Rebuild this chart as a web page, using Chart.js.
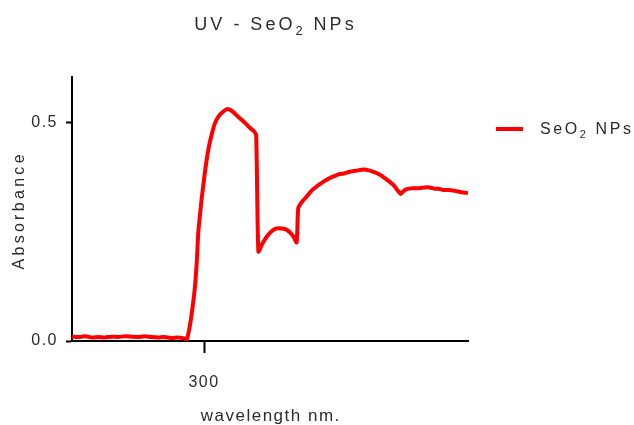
<!DOCTYPE html>
<html><head><meta charset="utf-8">
<script src="https://cdn.jsdelivr.net/npm/chart.js@4"></script>
<style>html,body{margin:0;padding:0;background:#fff}#wrap{width:634px;height:425px}</style>
</head><body><div id="wrap"><canvas id="c" width="634" height="425"></canvas></div>
<script>
const wavelength = [200,205,210,215,220,225,230,235,240,245,250,255,260,265,270,275,280,285,287,
  289,291,293,294.5,295.7,297,298,300,302,304,306,308,311,314,317,319,322,325,328.5,332,335,337.5,339.5,
  341.2,344,347.5,351,355,359,362.6,366,368,370.2,
  371.4,374,377.8,381,385.3,390,395,398,402,406,410.6,415,420.7,425,429,433.3,438,443.4,446,449,
  451,453.5,458,463,467,471,475,478,481.3,485,490,495,500];
const absorbance = [0.010,0.009,0.011,0.008,0.009,0.008,0.010,0.009,0.011,0.010,0.009,0.011,0.009,0.008,0.009,0.007,0.008,0.006,0.004,
  0.030,0.070,0.120,0.180,0.250,0.290,0.320,0.370,0.415,0.450,0.475,0.497,0.515,0.524,0.531,0.531,0.525,0.516,0.507,0.497,0.488,0.482,0.472,
  0.205,0.222,0.239,0.251,0.258,0.258,0.255,0.246,0.238,0.226,
  0.304,0.318,0.331,0.343,0.354,0.364,0.373,0.377,0.382,0.384,0.388,0.390,0.393,0.391,0.387,0.381,0.371,0.358,0.348,0.337,
  0.343,0.348,0.350,0.350,0.352,0.352,0.349,0.349,0.346,0.346,0.344,0.341,0.339];
const xTicks = [300];
const yTicks = [0, 0.5];
const seriesName = ['SeO', '2', ' NPs'];
const titleText = ['UV - SeO', '2', ' NPs'];
const xTitle = 'wavelength nm.';
const yTitle = 'Absorbance';

const FONT = '"Liberation Sans", Arial, sans-serif';
const TXT = '#2b2b2b';
const RED = '#ff0000';

function drawParts(ctx, parts, x, y, align, spacing) {
  ctx.save();
  ctx.letterSpacing = spacing + 'px';
  ctx.textBaseline = 'alphabetic';
  ctx.textAlign = 'left';
  let total = 0;
  parts.forEach(p => { ctx.font = p.size + 'px ' + FONT; p.w = ctx.measureText(p.t).width; total += p.w; });
  let cx = align === 'center' ? x - (total - spacing) / 2 : x;
  parts.forEach(p => {
    ctx.font = p.size + 'px ' + FONT;
    ctx.fillStyle = TXT;
    ctx.fillText(p.t, cx, y + (p.dy || 0));
    cx += p.w;
  });
  ctx.restore();
}

const textPlugin = {
  id: 'texts',
  beforeDraw(chart) { chart.ctx.letterSpacing = '1.5px'; },
  afterDraw(chart) {
    const ctx = chart.ctx;
    const a = chart.chartArea;
    const cx = (a.left + a.right) / 2;
    // title
    drawParts(ctx, [{t: titleText[0], size: 18}, {t: titleText[1], size: 13, dy: 5}, {t: titleText[2], size: 18}], cx + 4, 30, 'center', 3);
    // x title
    drawParts(ctx, [{t: xTitle, size: 17}], cx, 421, 'center', 1.5);
    // y title
    ctx.save();
    ctx.translate(24, 212);
    ctx.rotate(-Math.PI / 2);
    drawParts(ctx, [{t: yTitle, size: 16}], 0, 0, 'center', 3.3);
    ctx.restore();
    // legend
    const ds = chart.data.datasets[0];
    ctx.save();
    ctx.strokeStyle = ds.borderColor;
    ctx.lineWidth = 4;
    ctx.beginPath();
    ctx.moveTo(a.right + 28, 129);
    ctx.lineTo(a.right + 55, 129);
    ctx.stroke();
    ctx.restore();
    drawParts(ctx, [{t: seriesName[0], size: 16}, {t: seriesName[1], size: 11, dy: 4}, {t: seriesName[2], size: 16}], a.right + 72, 134, 'left', 2.6);
  }
};

new Chart(document.getElementById('c'), {
  type: 'line',
  data: {
    datasets: [{
      label: seriesName.join(''),
      data: wavelength.map((x, i) => ({x, y: absorbance[i]})),
      borderColor: RED,
      backgroundColor: RED,
      borderWidth: 4,
      pointRadius: 0,
      tension: 0.2,
      fill: false
    }]
  },
  options: {
    responsive: false,
    animation: false,
    devicePixelRatio: 1,
    layout: {padding: {top: 77, right: 166, left: 0, bottom: 0}},
    plugins: {legend: {display: false}, title: {display: false}, tooltip: {enabled: false}},
    scales: {
      x: {
        type: 'linear', min: 200, max: 500,
        afterFit(s) { s.height = 84; },
        afterBuildTicks(s) { s.ticks = xTicks.map(v => ({value: v})); },
        border: {display: true, color: '#000', width: 2},
        grid: {drawOnChartArea: false, drawTicks: true, tickLength: 12, tickWidth: 2, tickColor: '#000'},
        ticks: {padding: 20, color: TXT, font: {family: FONT, size: 16}, maxRotation: 0, callback: v => String(v)}
      },
      y: {
        type: 'linear', min: 0, max: 0.605,
        afterFit(s) { s.width = 72; },
        afterBuildTicks(s) { s.ticks = yTicks.map(v => ({value: v})); },
        border: {display: true, color: '#000', width: 2},
        grid: {drawOnChartArea: false, drawTicks: true, tickLength: 6, tickWidth: 2, tickColor: '#000'},
        ticks: {padding: 8, color: TXT, font: {family: FONT, size: 16}, callback: v => v.toFixed(1)}
      }
    }
  },
  plugins: [textPlugin]
});
</script>
</body></html>
